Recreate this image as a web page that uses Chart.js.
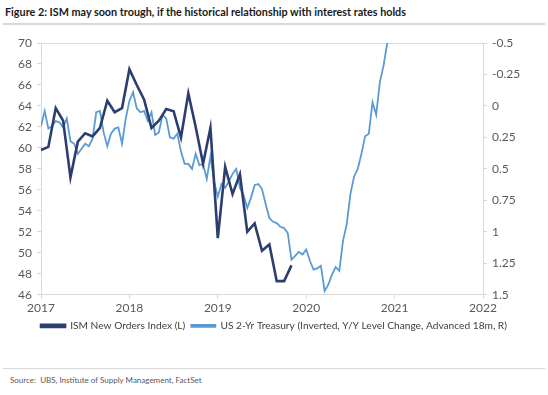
<!DOCTYPE html>
<html>
<head>
<meta charset="utf-8">
<script src="https://cdn.jsdelivr.net/npm/chart.js@4.4.1/dist/chart.umd.min.js"></script>
<style>
  body { margin:0; background:#fff; width:548px; height:395px; position:relative; overflow:hidden; font-family: Lato, "Open Sans", sans-serif; }
  #title { position:absolute; left:5px; top:5px; font-size:10.8px; font-weight:bold; color:#1a1a1a; white-space:nowrap; }
  #rule1 { position:absolute; left:3px; right:3px; top:23px; height:2px; background:#d8d8d8; }
  #chartBox { position:absolute; left:0; top:30px; width:548px; height:311px; }
  #rule2 { position:absolute; left:3px; right:3px; top:368px; height:1px; background:#d8d8d8; }
  #source { position:absolute; left:10px; top:375px; font-size:8px; color:#595959; white-space:nowrap; }
</style>
</head>
<body>
<div id="title">Figure 2: ISM may soon trough, if the historical relationship with interest rates holds</div>
<div id="rule1"></div>
<div id="chartBox"><canvas id="myChart" width="548" height="311"></canvas></div>
<div id="rule2"></div>
<div id="source">Source:&nbsp; UBS, Institute of Supply Management, FactSet</div>

<script>
// DATOS
// ISM New Orders, mensual desde ene 2017
let ismStart = 2017;
let ismValues = [59.8, 60.1, 63.8, 62.6, 57.2, 60.6, 61.4, 61.1, 61.9, 64.5, 63.4, 63.8,
                 67.5, 66.0, 64.6, 61.9, 62.6, 63.7, 63.5, 61.0, 65.2, 62.0, 58.5, 61.9,
                 51.4, 58.2, 55.6, 57.5, 52.0, 52.8, 50.2, 50.8, 47.3, 47.3, 48.8];

// US 2-Yr Treasury invertido, cada medio mes desde ene 2017 (eje derecho)
let tsyStart = 2017;
let tsyValues = [0.16, 0.04, 0.18, 0.16, 0.12, 0.13, 0.17, 0.10, 0.28, 0.30, 0.38, 0.34,
                 0.30, 0.32, 0.26, 0.05, 0.04, 0.21, 0.32, 0.22, 0.18, 0.17, 0.30, 0.10,
                 -0.04, -0.11, 0.02, 0.05, 0.04, 0.12, 0.05, 0.23, 0.21, 0.07, 0.10, 0.25,
                 0.26, 0.22, 0.36, 0.46, 0.46, 0.50, 0.38, 0.47, 0.46, 0.58, 0.40, 0.60,
                 0.72, 0.62, 0.65, 0.60, 0.54, 0.50, 0.65, 0.71, 0.81, 0.73, 0.63, 0.62,
                 0.66, 0.78, 0.89, 0.92, 0.93, 0.96, 0.97, 1.01, 1.22, 1.19, 1.16, 1.18,
                 1.14, 1.23, 1.30, 1.29, 1.27, 1.47, 1.42, 1.34, 1.28, 1.31, 1.07, 0.94,
                 0.70, 0.56, 0.50, 0.38, 0.24, 0.22, -0.03, 0.07, -0.19, -0.32, -0.50];

let yearTicks = [2017, 2018, 2019, 2020, 2021, 2022];
let leftTicks = [46, 70, 2];          // min, max, paso
let rightTicks = [-0.5, 1.5, 0.25];   // min, max, paso (invertido)

let ismLabel = "ISM New Orders Index (L)";
let tsyLabel = "US 2-Yr Treasury (Inverted, Y/Y Level Change, Advanced 18m, R)";

// armado de puntos
let ismPoints = ismValues.map((v, i) => ({ x: ismStart + i / 12, y: v }));
let tsyPoints = tsyValues.map((v, i) => ({ x: tsyStart + i / 24, y: v }));

const axisGrey = "#d9d9d9";
const tickText = "#595959";

const data = {
  datasets: [
    {
      label: ismLabel,
      data: ismPoints,
      yAxisID: "yL",
      borderColor: "#2c3e70",
      backgroundColor: "#2c3e70",
      borderWidth: 2.6,
      pointRadius: 0,
      tension: 0,
    },
    {
      label: tsyLabel,
      data: tsyPoints,
      yAxisID: "yR",
      borderColor: "#5b9bd5",
      backgroundColor: "#5b9bd5",
      borderWidth: 1.8,
      pointRadius: 0,
      tension: 0,
    },
  ],
};

const config = {
  type: "line",
  data: data,
  options: {
    responsive: false,
    animation: false,
    layout: { padding: { top: 13, left: 0, right: 0, bottom: 0 } },
    plugins: {
      tooltip: { enabled: false },
      legend: {
        position: "bottom",
        labels: {
          boxWidth: 24,
          boxHeight: 2,
          padding: 6,
          color: "#404040",
          font: { family: "Lato", size: 10.2 },
        },
      },
    },
    scales: {
      x: {
        type: "linear",
        min: yearTicks[0],
        max: yearTicks[yearTicks.length - 1],
        afterBuildTicks: (s) => { s.ticks = yearTicks.map((v) => ({ value: v })); },
        afterFit: (s) => { s.height = 20; },
        ticks: {
          color: tickText,
          font: { family: "Lato", size: 12 },
          padding: 2,
          maxRotation: 0,
          callback: (v) => String(v),
        },
        grid: { drawOnChartArea: false, tickLength: 4, color: axisGrey },
        border: { color: axisGrey },
      },
      yL: {
        position: "left",
        min: leftTicks[0],
        max: leftTicks[1],
        ticks: { stepSize: leftTicks[2], color: tickText, font: { family: "Lato", size: 12 }, padding: 5 },
        afterFit: (s) => { s.width = 41; },
        grid: {
          color: (ctx) => (ctx.tick && ctx.tick.value === leftTicks[1] ? axisGrey : "rgba(0,0,0,0)"),
          tickColor: axisGrey,
          tickLength: 4,
        },
        border: { color: axisGrey },
      },
      yR: {
        position: "right",
        reverse: true,
        min: rightTicks[0],
        max: rightTicks[1],
        ticks: { stepSize: rightTicks[2], color: tickText, font: { family: "Lato", size: 12 }, padding: 5, callback: (v) => String(v) },
        afterFit: (s) => { s.width = 65; },
        grid: { drawOnChartArea: false, tickLength: 4, color: axisGrey },
        border: { color: axisGrey },
      },
    },
  },
};

new Chart(document.getElementById("myChart"), config);
</script>
</body>
</html>
